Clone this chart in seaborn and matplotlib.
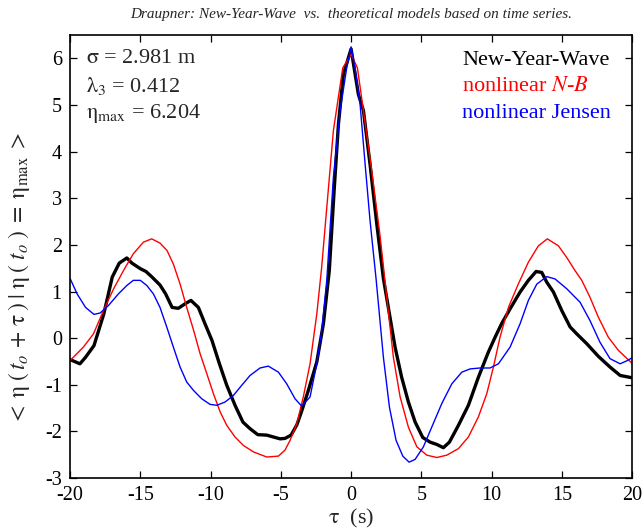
import pandas as pd
import matplotlib
matplotlib.use("Agg")
import matplotlib.pyplot as plt
import seaborn as sns

# ---- data ----
tau_nyw = [-20, -19.3, -18.9, -18.3, -17.6, -17.0, -16.5, -15.96, -15.6, -15.0, -14.6, -14.2,
           -13.6, -13.2, -12.74, -12.3, -11.8, -11.4, -10.87, -10.4, -9.9, -9.37, -8.85, -8.26,
           -7.7, -7.2, -6.64, -6.0, -5.53, -5.05, -4.7, -4.27, -3.86, -3.5, -3.04, -2.44, -1.97,
           -1.55, -1.2, -0.9, -0.55, 0, 0.52, 0.88, 1.35, 1.83, 2.3, 3.13, 3.6, 4.08, 4.56, 5.1,
           5.62, 6.1, 6.57, 7.0, 7.64, 8.35, 9.06, 9.77, 10.25, 10.73, 11.32, 12.03, 12.62, 13.17,
           13.57, 13.93, 14.4, 15.0, 15.59, 16.07, 16.78, 17.6, 18.43, 19.15, 20]
eta_nyw = [-0.46, -0.55, -0.41, -0.16, 0.52, 1.31, 1.61, 1.72, 1.61, 1.49, 1.43, 1.32,
           1.14, 0.95, 0.66, 0.64, 0.74, 0.81, 0.66, 0.31, -0.05, -0.55, -1.01, -1.44,
           -1.80, -1.94, -2.07, -2.08, -2.12, -2.16, -2.15, -2.08, -1.86, -1.55, -1.12, -0.51, 0.31,
           1.45, 3.2, 4.59, 5.66, 6.204, 5.23, 4.88, 3.73, 2.45, 1.28, -0.19, -0.84, -1.37, -1.80, -2.13,
           -2.23, -2.28, -2.35, -2.23, -1.87, -1.44, -0.84, -0.30, 0.02, 0.32, 0.63, 0.99, 1.24, 1.43,
           1.41, 1.20, 0.99, 0.59, 0.24, 0.09, -0.12, -0.39, -0.62, -0.80, -0.85]

tau_nb = [-20, -19.05, -18.34, -17.63, -16.9, -16.2, -15.5, -14.78, -14.19, -13.6, -13.1, -12.65,
          -12.17, -11.7, -11.2, -10.75, -10.27, -9.8, -9.32, -8.85, -8.26, -7.67, -6.95, -6.0,
          -5.17, -4.7, -4.34, -3.86, -3.4, -2.92, -2.44, -2.1, -1.26, -0.59, 0, 0.45, 0.88, 1.47,
          2.06, 2.54, 3.01, 3.49, 4.08, 4.68, 5.39, 6.1, 6.81, 7.64, 8.35, 9.06, 9.66, 10.13, 10.6,
          11.2, 11.9, 12.62, 13.33, 13.97, 14.76, 15.35, 15.94, 16.42, 17.0, 17.6, 18.31, 19.02, 20]
eta_nb = [-0.48, -0.19, 0.09, 0.59, 1.06, 1.45, 1.81, 2.06, 2.13, 2.04, 1.88, 1.59,
          1.16, 0.66, 0.16, -0.33, -0.76, -1.19, -1.58, -1.87, -2.12, -2.30, -2.44, -2.55,
          -2.53, -2.40, -2.19, -1.83, -1.26, -0.55, 0.52, 1.5, 4.45, 5.80, 6.09, 5.80, 4.88, 3.59,
          2.2, 0.88, -0.41, -1.26, -1.91, -2.33, -2.51, -2.56, -2.51, -2.37, -2.12, -1.69, -1.19, -0.62, 0.02,
          0.66, 1.16, 1.63, 1.98, 2.13, 1.98, 1.73, 1.45, 1.24, 0.88, 0.45, 0.02, -0.26, -0.54]

tau_jen = [-20, -19.5, -18.9, -18.3, -17.86, -17.27, -16.56, -15.96, -15.5, -15.0, -14.54, -14.07,
           -13.6, -13.12, -12.65, -12.17, -11.7, -11.22, -10.63, -10.04, -9.56, -8.97, -8.38, -7.78,
           -7.19, -6.48, -5.89, -5.17, -4.58, -3.99, -3.51, -2.92, -2.44, -2.09, -1.73, -1.26, -0.78,
           -0.31, 0, 0.28, 0.64, 1.0, 1.35, 1.78, 2.3, 2.73, 3.2, 3.68, 4.13, 4.56, 5.15, 5.74, 6.46,
           7.17, 7.88, 8.47, 9.18, 9.89, 10.49, 11.32, 12.03, 12.62, 13.22, 13.93, 14.52, 15.35, 16.3,
           17.0, 17.72, 18.43, 19.15, 19.67, 20]
eta_jen = [1.28, 0.95, 0.66, 0.51, 0.54, 0.70, 0.95, 1.13, 1.24, 1.24, 1.13, 0.95,
           0.66, 0.24, -0.19, -0.62, -0.94, -1.12, -1.30, -1.42, -1.44, -1.37, -1.23, -1.01,
           -0.80, -0.64, -0.60, -0.73, -0.98, -1.30, -1.46, -1.26, -0.55, 0.16, 1.24, 3.45, 4.88,
           5.80, 6.25, 5.80, 5.02, 3.73, 2.52, 1.27, -0.41, -1.48, -2.19, -2.53, -2.66, -2.60, -2.33, -1.91, -1.40,
           -0.98, -0.73, -0.66, -0.64, -0.64, -0.55, -0.19, 0.31, 0.81, 1.16, 1.32, 1.27, 1.06, 0.77,
           0.38, -0.09, -0.44, -0.55, -0.48, -0.42]

models = ["New-Year-Wave", "nonlinear N-B", "nonlinear Jensen"]
colors = ["black", "red", "blue"]
labels = ["New-Year-Wave", r"nonlinear $\mathit{N}$-$\mathit{B}$", "nonlinear Jensen"]

df = pd.concat([
    pd.DataFrame({"tau": tau_nyw, "eta": eta_nyw, "model": models[0]}),
    pd.DataFrame({"tau": tau_nb, "eta": eta_nb, "model": models[1]}),
    pd.DataFrame({"tau": tau_jen, "eta": eta_jen, "model": models[2]}),
], ignore_index=True)

# ---- style ----
sns.set_theme(style="ticks")
plt.rcParams["font.family"] = ["Liberation Serif", "DejaVu Serif"]
plt.rcParams["mathtext.fontset"] = "stix"
plt.rcParams["axes.unicode_minus"] = False

fig = plt.figure(figsize=(6.43, 5.31), dpi=100)
ax = fig.add_axes([0.109, 0.0998, 0.874, 0.834])

sns.lineplot(data=df, x="tau", y="eta", hue="model", size="model",
             hue_order=models, size_order=models,
             palette=dict(zip(models, colors)),
             sizes={models[0]: 2.4, models[1]: 1.0, models[2]: 1.0},
             estimator=None, sort=False, legend=False, ax=ax)

ax.set_xlim(-20, 20)
ax.set_ylim(-3, 6.5)
ax.set_xticks(range(-20, 21, 5))
ax.set_yticks(range(-3, 7))
ax.tick_params(direction="in", top=True, right=True, length=5, width=0.9,
               labelsize=14.5, colors="black", pad=6)
for sp in ax.spines.values():
    sp.set_visible(True)
    sp.set_color("black")
    sp.set_linewidth(1.2)

ax.set_xlabel(r"$\mathrm{\tau}$  (s)", fontsize=16, labelpad=1)
ax.set_ylabel(r"$<\;\mathrm{\eta}\;(\,t_o\,+\,\mathrm{\tau}\,)\;|\;\mathrm{\eta}\;(\;t_o\;)\;=\;\mathrm{\eta}_{\mathrm{max}}\;>$",
              fontsize=17)
ax.yaxis.set_label_coords(-0.068, 0.45)
ax.set_title("Draupner: New-Year-Wave  vs.  theoretical models based on time series.",
             fontsize=11, style="italic", pad=12)

# parameter box
ax.text(0.028, 0.948, r"$\mathrm{\sigma}$ = 2.981 m", transform=ax.transAxes,
        fontsize=16, va="center", ha="left")
ax.text(0.028, 0.885, r"$\mathrm{\lambda}_{\mathit{3}}$ = 0.412", transform=ax.transAxes,
        fontsize=16, va="center", ha="left")
ax.text(0.028, 0.822, r"$\mathrm{\eta}_{\mathrm{max}}$ = 6.204", transform=ax.transAxes,
        fontsize=16, va="center", ha="left")

# legend: coloured text only
leg = ax.legend(ax.get_lines()[:3], labels, loc="upper left",
                bbox_to_anchor=(0.678, 0.992), frameon=False, fontsize=16,
                handlelength=0, handletextpad=0, borderpad=0, labelspacing=0.25)
for txt, c in zip(leg.get_texts(), colors):
    txt.set_color(c)
for h in leg.legend_handles:
    h.set_visible(False)

fig.savefig("out.png", dpi=100)
